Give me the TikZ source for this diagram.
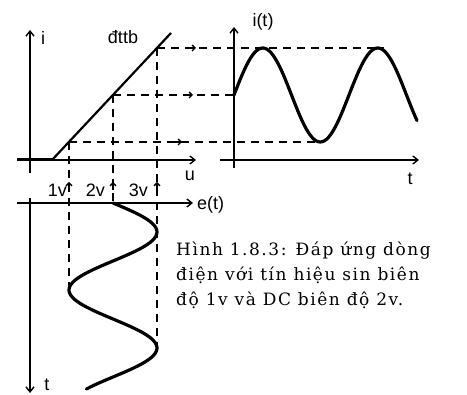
\documentclass[tikz,border=0pt]{standalone}
\usepackage{fontspec}
\setmainfont{Liberation Serif}
\setsansfont{Liberation Sans}
\newfontfamily\capfont[LetterSpace=9]{DejaVu Serif}
\usetikzlibrary{arrows.meta}

\begin{document}
\begin{tikzpicture}[x=1pt,y=-1pt,line join=round,
        axis/.style={line width=1.6pt,-{Straight Barb[length=5pt,width=8pt,line width=1.4pt]}},
        guide/.style={line width=1.4pt,dash pattern=on 8pt off 6pt},
        marker/.style={line width=1.3pt,-{Straight Barb[length=3pt,width=6pt,line width=1.3pt]}},
        curve/.style={line width=3.2pt,line cap=round},
        lbl/.style={font=\sffamily\fontsize{18}{18}\selectfont,inner sep=0pt},
        caption/.style={font=\capfont\fontsize{17}{17}\selectfont,inner sep=0pt,anchor=base west}]
        \useasboundingbox (0,0) rectangle (467,395);

        % Diem lam viec tren dac tuyen
        \coordinate (K) at (52,160);
        \coordinate (A) at (69,142);
        \coordinate (B) at (113,95);
        \coordinate (C) at (157,48);
        \coordinate (E) at (171,33);

        % Dac tuyen i(u)
        \draw[axis] (30,173) -- (30,30);
        \draw[axis] (17,160) -- (196,160);
        \draw[line width=3pt] (17,160) -- (K);
        \draw[line width=2.2pt] (K) -- (E);
        \node[lbl] (ilbl) at (43,38) {i};
        \node[lbl] (ulbl) at (190,176) {u};
        \node[lbl] (dttb) at (123,37) {đttb};

        % Duong giong
        \draw[guide] (C) -- (384,48);
        \draw[guide] (B) -- (234,95);
        \draw[guide] (A) -- (317,142);
        \draw[guide] (C) -- (157,348);
        \draw[guide] (B) -- (113,203);
        \draw[guide] (A) -- (69,287);
        \draw[marker] (188,48) -- (196,48);
        \draw[marker] (185,95) -- (193,95);
        \draw[marker] (174,142) -- (182,142);
        \draw[marker] (69,190) -- (69,182);
        \draw[marker] (113,190) -- (113,182);
        \draw[marker] (157,190) -- (157,182);

        % Dong dien i(t)
        \draw[axis] (234,168) -- (234,27);
        \draw[axis] (220,160) -- (419,160);
        \draw[curve] plot[domain=234:417,samples=90] (\x,{95-47*sin(3.1304*(\x-234))});
        \node[lbl] (itlbl) at (263,22) {i(t)};
        \node[lbl] (tlbl) at (410,179) {t};

        % Tin hieu vao e(t)
        \draw[axis] (17,203) -- (193,203);
        \draw[axis] (30,198) -- (30,393);
        \draw[curve] plot[domain=203:389,samples=90] ({113+44*sin(3.1034*(\x-203))},\x);
        \node[lbl,anchor=west] (etlbl) at (197,205) {e(t)};
        \node[lbl] (tdown) at (47,385) {t};
        \node[lbl,anchor=east] (v1) at (67,190) {1v};
        \node[lbl,anchor=east] (v2) at (105,190) {2v};
        \node[lbl,anchor=east] (v3) at (148,190) {3v};

        % Chu thich
        \node[caption] (cap1) at (176,256) {Hình 1.8.3: Đáp ứng dòng};
        \node[caption] (cap2) at (176,281) {điện với tín hiệu sin biên};
        \node[caption] (cap3) at (176,306) {độ 1v và DC biên độ 2v.};
\end{tikzpicture}
\end{document}
